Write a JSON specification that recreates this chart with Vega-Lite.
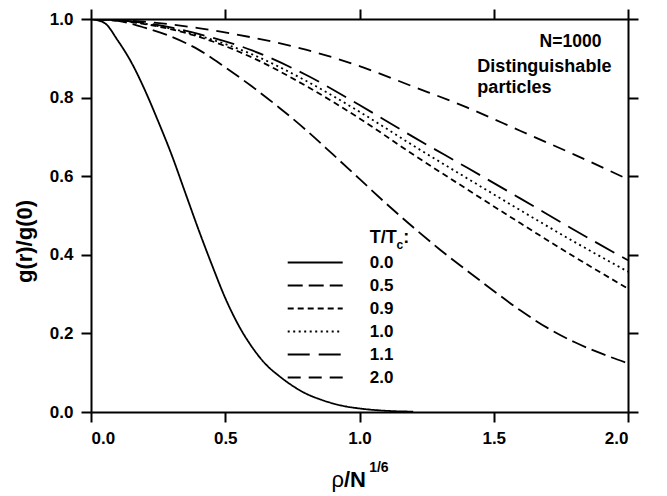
{
  "$schema": "https://vega.github.io/schema/vega-lite/v6.json",
  "width": 537,
  "height": 393,
  "autosize": "none",
  "padding": {"left": 91, "top": 19, "right": 39, "bottom": 84},
  "background": "white",
  "config": {
    "view": {"stroke": null},
    "font": "Liberation Sans",
    "axis": {
      "domainColor": "black", "domainWidth": 2, "tickColor": "black", "tickWidth": 2, "tickSize": 10,
      "labelFont": "Liberation Sans", "labelFontSize": 17, "labelFontWeight": "bold", "labelColor": "black",
      "grid": false, "titleFont": "Liberation Sans", "titleColor": "black"
    },
    "legend": {
      "orient": "none", "legendX": 215.7, "legendY": 235, "title": null,
      "symbolType": "M-5,0H5", "symbolSize": 121, "symbolStrokeWidth": 2, "symbolStrokeColor": "black", "symbolFillColor": "transparent",
      "labelFont": "Liberation Sans", "labelFontSize": 17, "labelFontWeight": "bold", "labelColor": "black",
      "labelOffset": 46, "rowPadding": 5
    }
  },
  "datasets": {
    "curves": [
      {"T": "0.0", "x": 0, "g": 1}, {"T": "0.0", "x": 0.05, "g": 0.99}, {"T": "0.0", "x": 0.1, "g": 0.945},
      {"T": "0.0", "x": 0.15, "g": 0.89}, {"T": "0.0", "x": 0.2, "g": 0.82}, {"T": "0.0", "x": 0.25, "g": 0.74},
      {"T": "0.0", "x": 0.3, "g": 0.655}, {"T": "0.0", "x": 0.35, "g": 0.56}, {"T": "0.0", "x": 0.4, "g": 0.465},
      {"T": "0.0", "x": 0.45, "g": 0.375}, {"T": "0.0", "x": 0.5, "g": 0.29}, {"T": "0.0", "x": 0.55, "g": 0.22},
      {"T": "0.0", "x": 0.6, "g": 0.165}, {"T": "0.0", "x": 0.65, "g": 0.122}, {"T": "0.0", "x": 0.7, "g": 0.092},
      {"T": "0.0", "x": 0.75, "g": 0.067}, {"T": "0.0", "x": 0.8, "g": 0.047}, {"T": "0.0", "x": 0.85, "g": 0.033},
      {"T": "0.0", "x": 0.9, "g": 0.022}, {"T": "0.0", "x": 0.95, "g": 0.014}, {"T": "0.0", "x": 1.0, "g": 0.009},
      {"T": "0.0", "x": 1.1, "g": 0.003}, {"T": "0.0", "x": 1.2, "g": 0.001},

      {"T": "0.5", "x": 0, "g": 1}, {"T": "0.5", "x": 0.1, "g": 0.995}, {"T": "0.5", "x": 0.2, "g": 0.978},
      {"T": "0.5", "x": 0.3, "g": 0.955}, {"T": "0.5", "x": 0.4, "g": 0.922}, {"T": "0.5", "x": 0.5, "g": 0.877},
      {"T": "0.5", "x": 0.6, "g": 0.828}, {"T": "0.5", "x": 0.7, "g": 0.775}, {"T": "0.5", "x": 0.8, "g": 0.718},
      {"T": "0.5", "x": 0.9, "g": 0.656}, {"T": "0.5", "x": 1.0, "g": 0.593}, {"T": "0.5", "x": 1.1, "g": 0.53},
      {"T": "0.5", "x": 1.2, "g": 0.47}, {"T": "0.5", "x": 1.3, "g": 0.413}, {"T": "0.5", "x": 1.4, "g": 0.36},
      {"T": "0.5", "x": 1.5, "g": 0.308}, {"T": "0.5", "x": 1.6, "g": 0.258}, {"T": "0.5", "x": 1.7, "g": 0.214},
      {"T": "0.5", "x": 1.8, "g": 0.178}, {"T": "0.5", "x": 1.9, "g": 0.149}, {"T": "0.5", "x": 2.0, "g": 0.124},

      {"T": "0.9", "x": 0, "g": 1}, {"T": "0.9", "x": 0.1, "g": 0.996}, {"T": "0.9", "x": 0.2, "g": 0.987},
      {"T": "0.9", "x": 0.4, "g": 0.955}, {"T": "0.9", "x": 0.6, "g": 0.902}, {"T": "0.9", "x": 0.8, "g": 0.83},
      {"T": "0.9", "x": 1.0, "g": 0.747}, {"T": "0.9", "x": 1.2, "g": 0.655}, {"T": "0.9", "x": 1.4, "g": 0.567},
      {"T": "0.9", "x": 1.6, "g": 0.48}, {"T": "0.9", "x": 1.8, "g": 0.395}, {"T": "0.9", "x": 2.0, "g": 0.314},

      {"T": "1.0", "x": 0, "g": 1}, {"T": "1.0", "x": 0.1, "g": 0.997}, {"T": "1.0", "x": 0.2, "g": 0.988},
      {"T": "1.0", "x": 0.4, "g": 0.958}, {"T": "1.0", "x": 0.6, "g": 0.91}, {"T": "1.0", "x": 0.8, "g": 0.843},
      {"T": "1.0", "x": 1.0, "g": 0.764}, {"T": "1.0", "x": 1.2, "g": 0.678}, {"T": "1.0", "x": 1.4, "g": 0.595},
      {"T": "1.0", "x": 1.6, "g": 0.513}, {"T": "1.0", "x": 1.8, "g": 0.433}, {"T": "1.0", "x": 2.0, "g": 0.357},

      {"T": "1.1", "x": 0, "g": 1}, {"T": "1.1", "x": 0.1, "g": 0.997}, {"T": "1.1", "x": 0.2, "g": 0.99},
      {"T": "1.1", "x": 0.4, "g": 0.962}, {"T": "1.1", "x": 0.6, "g": 0.92}, {"T": "1.1", "x": 0.8, "g": 0.858},
      {"T": "1.1", "x": 1.0, "g": 0.781}, {"T": "1.1", "x": 1.2, "g": 0.70}, {"T": "1.1", "x": 1.4, "g": 0.622},
      {"T": "1.1", "x": 1.6, "g": 0.543}, {"T": "1.1", "x": 1.8, "g": 0.463}, {"T": "1.1", "x": 2.0, "g": 0.386},

      {"T": "2.0", "x": 0, "g": 1}, {"T": "2.0", "x": 0.1, "g": 0.998}, {"T": "2.0", "x": 0.2, "g": 0.993},
      {"T": "2.0", "x": 0.4, "g": 0.977}, {"T": "2.0", "x": 0.6, "g": 0.953}, {"T": "2.0", "x": 0.8, "g": 0.922},
      {"T": "2.0", "x": 1.0, "g": 0.88}, {"T": "2.0", "x": 1.2, "g": 0.828}, {"T": "2.0", "x": 1.4, "g": 0.775},
      {"T": "2.0", "x": 1.6, "g": 0.715}, {"T": "2.0", "x": 1.8, "g": 0.655}, {"T": "2.0", "x": 2.0, "g": 0.592}
    ]
  },
  "resolve": {"axis": {"x": "independent", "y": "independent"}},
  "layer": [
    {
      "data": {"name": "curves"},
      "mark": {"type": "line", "color": "black", "strokeWidth": 1.8, "interpolate": "monotone", "clip": true},
      "encoding": {
        "x": {"field": "x", "type": "quantitative",
              "scale": {"domain": [0, 2], "nice": false, "zero": false},
              "axis": {"orient": "bottom", "values": [0, 0.5, 1, 1.5, 2], "format": ".1f", "title": null, "labelPadding": 8}},
        "y": {"field": "g", "type": "quantitative",
              "scale": {"domain": [0, 1], "nice": false},
              "axis": {"orient": "left", "values": [0, 0.2, 0.4, 0.6, 0.8, 1.0], "format": ".1f",
                       "title": "g(r)/g(0)", "titleFontSize": 22, "titleFontWeight": "bold", "titleAngle": 270,
                       "titleX": -60, "titleY": 222, "titleAlign": "center", "titleBaseline": "alphabetic", "labelPadding": 8}},
        "strokeDash": {"field": "T", "type": "nominal",
              "scale": {"domain": ["0.0", "0.5", "0.9", "1.0", "1.1", "2.0"],
                        "range": [[1, 0], [15, 6], [6, 4], [2, 3.5], [22, 9], [13, 8]]}},
        "detail": {"field": "T"}
      }
    },
    {
      "data": {"name": "curves"},
      "mark": {"type": "line", "opacity": 0},
      "encoding": {
        "x": {"field": "x", "type": "quantitative",
              "axis": {"orient": "top", "values": [0, 0.5, 1, 1.5, 2], "labels": false, "title": null}},
        "y": {"field": "g", "type": "quantitative",
              "axis": {"orient": "right", "values": [0, 0.2, 0.4, 0.6, 0.8, 1.0], "labels": false, "title": null}},
        "detail": {"field": "T"}
      }
    },
    {
      "data": {"values": [{}]},
      "mark": {"type": "text", "align": "right", "baseline": "alphabetic", "fontSize": 17.5, "fontWeight": "bold", "font": "Liberation Sans"},
      "encoding": {"x": {"datum": 1.901, "axis": null}, "y": {"datum": 0.929, "axis": null}, "text": {"value": "N=1000"}}
    },
    {
      "data": {"values": [{}]},
      "mark": {"type": "text", "align": "left", "baseline": "alphabetic", "fontSize": 18, "fontWeight": "bold", "font": "Liberation Sans"},
      "encoding": {"x": {"datum": 1.439, "axis": null}, "y": {"datum": 0.865, "axis": null}, "text": {"value": "Distinguishable"}}
    },
    {
      "data": {"values": [{}]},
      "mark": {"type": "text", "align": "left", "baseline": "alphabetic", "fontSize": 18, "fontWeight": "bold", "font": "Liberation Sans"},
      "encoding": {"x": {"datum": 1.439, "axis": null}, "y": {"datum": 0.812, "axis": null}, "text": {"value": "particles"}}
    },
    {
      "data": {"values": [{}]},
      "mark": {"type": "text", "align": "left", "baseline": "alphabetic", "fontSize": 18, "fontWeight": "bold", "font": "Liberation Sans"},
      "encoding": {"x": {"datum": 1.038, "axis": null}, "y": {"datum": 0.429, "axis": null}, "text": {"value": "T/T"}}
    },
    {
      "data": {"values": [{}]},
      "mark": {"type": "text", "align": "left", "baseline": "alphabetic", "fontSize": 12, "fontWeight": "bold", "font": "Liberation Sans"},
      "encoding": {"x": {"datum": 1.138, "axis": null}, "y": {"datum": 0.414, "axis": null}, "text": {"value": "c"}}
    },
    {
      "data": {"values": [{}]},
      "mark": {"type": "text", "align": "left", "baseline": "alphabetic", "fontSize": 18, "fontWeight": "bold", "font": "Liberation Sans"},
      "encoding": {"x": {"datum": 1.163, "axis": null}, "y": {"datum": 0.429, "axis": null}, "text": {"value": ":"}}
    },
    {
      "data": {"values": [{}]},
      "mark": {"type": "text", "align": "right", "baseline": "alphabetic", "fontSize": 22, "fontWeight": "normal", "font": "Liberation Sans", "clip": false},
      "encoding": {"x": {"datum": 0.942, "axis": null}, "y": {"datum": -0.192, "axis": null}, "text": {"value": "ρ"}}
    },
    {
      "data": {"values": [{}]},
      "mark": {"type": "text", "align": "left", "baseline": "alphabetic", "fontSize": 22, "fontWeight": "bold", "font": "Liberation Sans", "clip": false},
      "encoding": {"x": {"datum": 0.942, "axis": null}, "y": {"datum": -0.192, "axis": null}, "text": {"value": "/N"}}
    },
    {
      "data": {"values": [{}]},
      "mark": {"type": "text", "align": "left", "baseline": "alphabetic", "fontSize": 14, "fontWeight": "bold", "font": "Liberation Sans", "clip": false},
      "encoding": {"x": {"datum": 1.036, "axis": null}, "y": {"datum": -0.152, "axis": null}, "text": {"value": "1/6"}}
    }
  ]
}
